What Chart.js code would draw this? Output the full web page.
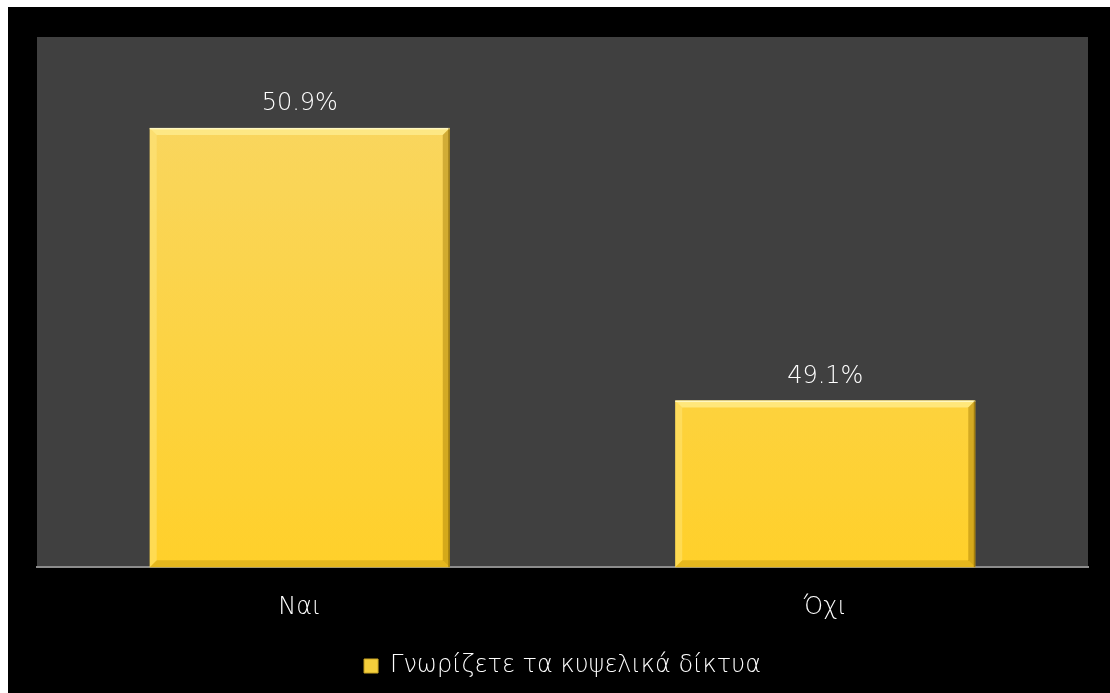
<!DOCTYPE html>
<html lang="el">
<head>
  <meta charset="UTF-8">
  <title>Κυψελικά δίκτυα</title>
  <script src="https://cdn.jsdelivr.net/npm/chart.js@4.4.1/dist/chart.umd.min.js"></script>
  <style>
    body { margin: 0; background: #fff; }
    .frame {
      position: absolute;
      left: 8px;
      top: 7px;
      width: 1102px;
      height: 686px;
      background: #000;
    }
  </style>
</head>
<body>
  <div class="frame">
    <canvas id="chart" width="1102" height="686"></canvas>
  </div>
  <script>
    const categories = ['Ναι', 'Όχι'];
    const seriesName = 'Γνωρίζετε τα κυψελικά δίκτυα';
    const values = [50.9, 49.1];

    const fontFamily = '"DejaVu Sans", "Noto Sans", sans-serif';
    const fontWeight = 200;

    // gray plot background
    const plotBg = {
      id: 'plotBg',
      beforeDraw(chart) {
        const { ctx, chartArea: a } = chart;
        ctx.save();
        ctx.fillStyle = '#404040';
        ctx.fillRect(a.left, a.top, a.right - a.left, a.bottom - a.top);
        ctx.restore();
      }
    };

    // bevelled edges and value labels on the bars
    const barDecor = {
      id: 'barDecor',
      afterDatasetsDraw(chart) {
        const { ctx, chartArea } = chart;
        const meta = chart.getDatasetMeta(0);
        meta.data.forEach((bar, i) => {
          const l = bar.x - bar.width / 2, r = bar.x + bar.width / 2;
          const t = bar.y, b = Math.min(bar.base, chartArea.bottom);
          const s = 7;
          ctx.save();
          const poly = (pts, fill) => {
            ctx.beginPath();
            ctx.moveTo(pts[0][0], pts[0][1]);
            pts.slice(1).forEach(p => ctx.lineTo(p[0], p[1]));
            ctx.closePath();
            ctx.fillStyle = fill;
            ctx.fill();
          };
          poly([[l, t], [r, t], [r - s, t + s], [l + s, t + s]], 'rgba(255,240,150,0.7)');
          poly([[l, t], [l + s, t + s], [l + s, b - s], [l, b]], 'rgba(255,235,140,0.4)');
          poly([[r, t], [r, b], [r - s, b - s], [r - s, t + s]], 'rgba(150,110,0,0.4)');
          poly([[l, b], [l + s, b - s], [r - s, b - s], [r, b]], 'rgba(170,125,0,0.3)');
          ctx.fillStyle = 'rgba(255,250,200,0.9)';
          ctx.fillRect(l, t, r - l, 1.5);
          ctx.fillStyle = 'rgba(120,90,0,0.55)';
          ctx.fillRect(r - 1.5, t, 1.5, b - t);

          ctx.fillStyle = '#ffffff';
          ctx.font = fontWeight + ' 24px ' + fontFamily;
          ctx.textAlign = 'center';
          ctx.textBaseline = 'bottom';
          ctx.fillText(values[i].toFixed(1) + '%', bar.x, t - 12);
          ctx.restore();
        });
      }
    };

    const ctx = document.getElementById('chart').getContext('2d');
    new Chart(ctx, {
      type: 'bar',
      data: {
        labels: categories,
        datasets: [{
          label: seriesName,
          data: values,
          backgroundColor: function (context) {
            const a = context.chart.chartArea;
            if (!a) return '#fcd23f';
            const g = context.chart.ctx.createLinearGradient(0, a.top, 0, a.bottom);
            g.addColorStop(0, '#f8d768');
            g.addColorStop(1, '#ffd02a');
            return g;
          },
          borderWidth: 0,
          barPercentage: 0.571,
          categoryPercentage: 1.0
        }]
      },
      options: {
        responsive: false,
        animation: false,
        layout: {
          padding: { left: 29, right: 22, top: 30, bottom: 5 }
        },
        scales: {
          x: {
            grid: { display: false },
            border: { display: true, color: '#8c8c8c', width: 2 },
            ticks: {
              color: '#ffffff',
              font: { family: fontFamily, size: 24, weight: fontWeight },
              padding: 18
            }
          },
          y: {
            display: false,
            min: 48,
            max: 51.5
          }
        },
        plugins: {
          legend: {
            position: 'bottom',
            labels: {
              color: '#ffffff',
              font: { family: fontFamily, size: 24, weight: fontWeight },
              boxWidth: 14,
              boxHeight: 14,
              padding: 14,
              generateLabels: function (chart) {
                return [{
                  text: seriesName,
                  fillStyle: '#f5cf3c',
                  strokeStyle: '#c9a424',
                  lineWidth: 1,
                  fontColor: '#ffffff',
                  datasetIndex: 0
                }];
              }
            }
          },
          tooltip: { enabled: false }
        }
      },
      plugins: [plotBg, barDecor]
    });
  </script>
</body>
</html>
